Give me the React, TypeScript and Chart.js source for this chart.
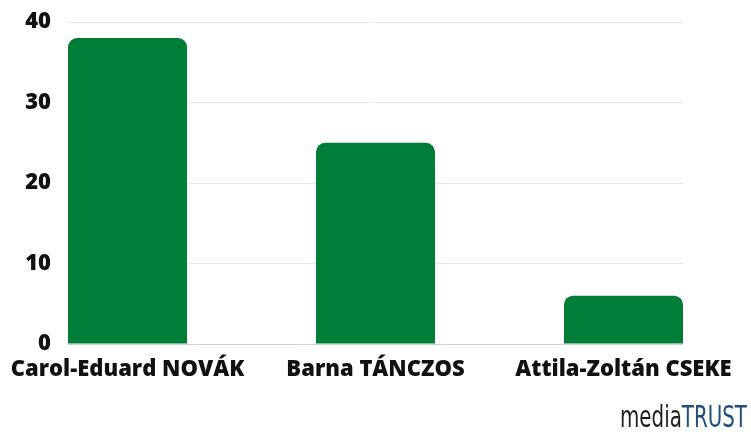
import React, { useEffect, useRef } from "react";
import { Chart, registerables } from "chart.js";

Chart.register(...registerables);

const categories = ["Carol-Eduard NOVÁK", "Barna TÁNCZOS", "Attila-Zoltán CSEKE"];
const values = [38, 25, 6];
const yTicks = [0, 10, 20, 30, 40];

export default function App() {
  const ref = useRef<HTMLCanvasElement | null>(null);

  useEffect(() => {
    if (!ref.current) return;
    const chart = new Chart(ref.current, {
      type: "bar",
      data: {
        datasets: [
          {
            data: values.map((v, i) => ({ x: i, y: v })),
            backgroundColor: "#007e38",
            borderRadius: { topLeft: 9, topRight: 9, bottomLeft: 0, bottomRight: 0 },
            borderSkipped: "bottom",
            barPercentage: 0.8,
            categoryPercentage: 0.6,
          },
        ],
      },
      options: {
        animation: false,
        responsive: false,
        maintainAspectRatio: false,
        layout: { padding: { left: 0, right: 68, top: 22, bottom: 0 } },
        plugins: { legend: { display: false }, tooltip: { enabled: false } },
        scales: {
          x: {
            type: "linear",
            offset: false,
            min: -0.24,
            max: 2.24,
            grid: { display: false, drawTicks: false, offset: false },
            border: { display: false },
            afterBuildTicks: (axis: any) => {
              axis.ticks = categories.map((_, i) => ({ value: i }));
            },
            afterFit: (axis: any) => {
              axis.height = 88;
              axis.paddingLeft = 0;
              axis.paddingRight = 0;
            },
            ticks: {
              autoSkip: false,
              maxRotation: 0,
              padding: 13,
              color: "#111111",
              font: { family: "'Open Sans'", size: 22, weight: "800" },
              callback: (v: any) => categories[Math.round(Number(v))] ?? "",
            },
          },
          y: {
            min: 0,
            max: 40,
            afterBuildTicks: (axis: any) => {
              axis.ticks = yTicks.map((v) => ({ value: v }));
            },
            afterFit: (axis: any) => {
              axis.width = 68;
              axis.paddingTop = 0;
              axis.paddingBottom = 0;
            },
            grid: {
              drawTicks: false,
              color: (ctx: any) => (ctx.tick && ctx.tick.value === 0 ? "#cfcfcf" : "#e8e8e8"),
              lineWidth: 1,
            },
            border: { display: false },
            ticks: {
              padding: 17,
              color: "#111111",
              font: { family: "'Open Sans'", size: 22, weight: "800" },
            },
          },
        },
      },
    });
    return () => chart.destroy();
  }, []);

  return (
    <div style={{ position: "fixed", left: 0, top: 0, width: 751, height: 432, background: "#fff" }}>
      <canvas ref={ref} width={751} height={432} style={{ display: "block", width: 751, height: 432 }} />
      <svg
        width={130}
        height={32}
        style={{ position: "absolute", left: 618, top: 400 }}
      >
        <text
          x={2}
          y={27}
          textLength={127}
          lengthAdjust="spacingAndGlyphs"
          style={{ fontFamily: "'Liberation Sans Narrow', 'DejaVu Sans Condensed', 'Liberation Sans', sans-serif", fontSize: 30 }}
        >
          <tspan fill="#1e1e1e">media</tspan>
          <tspan fill="#1d4e7e">TRUST</tspan>
        </text>
      </svg>
    </div>
  );
}
